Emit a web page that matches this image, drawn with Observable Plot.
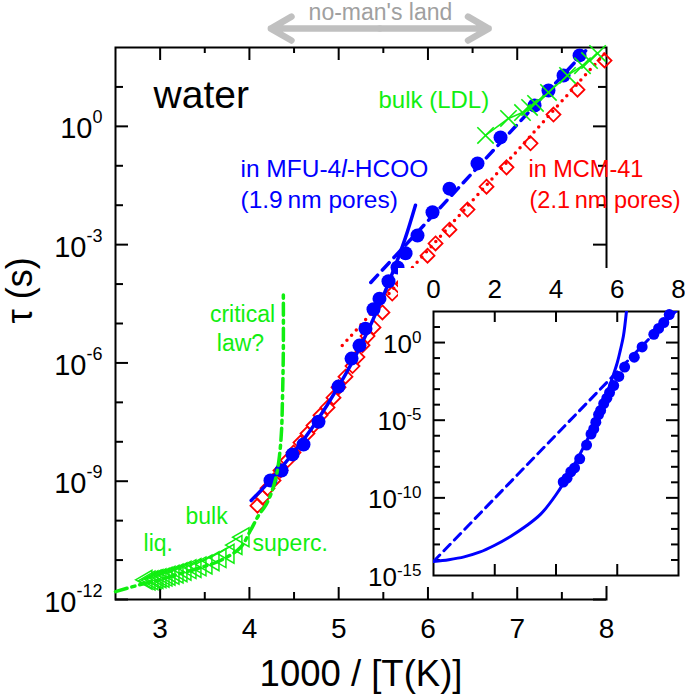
<!DOCTYPE html>
<html><head><meta charset="utf-8">
<script src="https://cdn.jsdelivr.net/npm/d3@7"></script>
<script src="https://cdn.jsdelivr.net/npm/@observablehq/plot@0.6"></script>
<style>
body{margin:0;background:#fff;}
#wrap{position:relative;width:685px;height:694px;}
#inset{position:absolute;left:398px;top:268px;}
</style></head><body><div id="wrap"><div id="main"></div><div id="inset"></div></div>
<script>
// ---------- data (x = 1000/T in 1/K, values are log10 of tau in s) ----------
const mfuX = [4.236,4.360,4.483,4.606,4.774,4.998,5.144,5.233,5.300,5.390,5.457,5.558,5.659,5.749,5.883,6.051,6.241,6.555,6.813,7.194,7.350,7.519,7.698];
const mfuLogTau = [-8.98,-8.73,-8.32,-8.07,-7.49,-6.60,-5.89,-5.56,-5.13,-4.64,-4.37,-3.93,-3.58,-3.22,-2.77,-2.18,-1.58,-0.94,-0.28,0.53,0.91,1.29,1.80];

const mcmX = [4.09,4.147,4.203,4.27,4.348,4.427,4.494,4.572,4.65,4.718,4.796,4.875,4.942,4.998,5.076,5.155,5.21,5.267,5.323,5.39,5.49,5.60,5.715,5.77,5.995,6.085,6.241,6.443,6.656,6.88,7.149,7.406,7.675,7.978];
const mcmLogTau = [-9.62,-9.41,-9.18,-8.98,-8.73,-8.47,-8.27,-8.02,-7.79,-7.59,-7.33,-7.13,-6.88,-6.62,-6.35,-6.08,-5.85,-5.55,-5.32,-5.10,-4.72,-4.24,-3.99,-3.81,-3.28,-2.97,-2.62,-2.11,-1.53,-1.04,-0.43,0.30,0.93,1.67];

const ldlX = [6.645,6.902,7.059,7.138,7.205,7.35,7.563,7.731,7.81,7.90];
const ldlLogTau = [-0.23,0.20,0.35,0.48,0.58,0.86,1.29,1.54,1.67,1.85];

const bulkX = [2.847,2.881,2.914,2.948,2.970,3.004,3.038,3.071,3.105,3.150,3.195,3.239,3.284,3.340,3.396,3.452,3.519,3.598,3.676,3.766,3.855,3.934];
const bulkLogTau = [-11.50,-11.52,-11.51,-11.49,-11.48,-11.46,-11.45,-11.42,-11.40,-11.37,-11.34,-11.31,-11.27,-11.23,-11.20,-11.16,-11.11,-11.03,-10.95,-10.84,-10.62,-10.42];

const critX = [2.5,2.78,3.004,3.228,3.452,3.676,3.90,4.012,4.102,4.18,4.247,4.303,4.337,4.36,4.37,4.38,4.38];
const critLogTau = [-11.80,-11.62,-11.49,-11.34,-11.19,-11.01,-10.68,-10.25,-9.87,-9.62,-9.29,-8.85,-8.35,-7.71,-6.95,-5.68,-4.16];

const vftX = [4.02,4.25,4.5,4.75,5.0,5.25,5.5,5.65,5.75,5.86];
const vftLogTau = [-9.49,-8.94,-8.26,-7.49,-6.59,-5.55,-4.30,-3.44,-2.81,-2.00];

const arrX = [5.36,7.80];
const arrLogTau = [-3.96,2.00];

const mcmFitX = [5.04,8.0];
const mcmFitLogTau = [-5.56,1.90];

const insetVftX = [0,0.5,1,1.5,2,2.5,3,3.5,4,4.5,5,5.5,5.8,6.0,6.1,6.2,6.3];
const insetVftLogTau = [-14.1,-13.98,-13.8,-13.5,-13.05,-12.5,-11.85,-11.05,-9.8,-8.2,-6.35,-4.1,-2.5,-1.3,-0.5,0.4,2.0];
const insetArrX = [0,7.95];
const insetArrLogTau = [-14.1,2.1];

// ticks and labels
const xTickMajor = [3,4,5,6,7];
const xTickMinor = [3.5,4.5,5.5,6.5,7.5];
const xTickLabels = [3,4,5,6,7,8];
const yMajorExp = [-12,-9,-6,-3,0];
const yMinorExp = [-11,-10,-8,-7,-5,-4,-2,-1,1];
const insetXTicks = [2,4,6];
const insetXLabels = [0,2,4,6,8];
const insetYMajor = [-10,-5,0];
const insetYMinor = [-14,-13,-12,-11,-9,-8,-7,-6,-4,-3,-2,-1,1];
const insetYLabels = [-15,-10,-5,0];

// ---------- build tables ----------
const pts = (xs, ls) => xs.map((x, i) => ({x, y: 10 ** ls[i]}));
const mfu = pts(mfuX, mfuLogTau), mcm = pts(mcmX, mcmLogTau), ldl = pts(ldlX, ldlLogTau);
const bulk = pts(bulkX, bulkLogTau), crit = pts(critX, critLogTau), vft = pts(vftX, vftLogTau);
const arr = pts(arrX, arrLogTau), mcmFit = pts(mcmFitX, mcmFitLogTau);
const iVft = pts(insetVftX, insetVftLogTau), iArr = pts(insetArrX, insetArrLogTau);

const FONT = "'Liberation Sans', Arial, Helvetica, sans-serif";
const GREEN = "#11ee11", BLUE = "#0000ff", RED = "#ff0000", GREY = "#c0c0c0";

const leftTri = {draw(ctx, size) {
  const s = Math.sqrt(size) * 0.6824, u = s * Math.sqrt(3) / 2;
  ctx.moveTo(-s, 0); ctx.lineTo(s / 2, -u); ctx.lineTo(s / 2, u); ctx.closePath();
}};

const note = (txt, x, lg, color, size, anchor = "start") =>
  Plot.text([txt], {x: () => x, y: () => 10 ** lg, text: d => d, fill: color, fontSize: size, textAnchor: anchor, lineAnchor: "bottom"});

const MW = 685, MH = 694, ML = 115, MR = 79, MT = 47, MB = 95;
const IW = MW - ML - MR, IH = MH - MT - MB;

const main = Plot.plot({
  width: MW, height: MH, marginLeft: ML, marginRight: MR, marginTop: MT, marginBottom: MB,
  style: {fontFamily: FONT, background: "white", overflow: "visible", color: "black"},
  x: {domain: [2.5, 8], axis: null},
  y: {type: "log", domain: [1e-12, 1e2], axis: null},
  marks: [
    Plot.frame({stroke: "black", strokeWidth: 2}),
    Plot.ruleX(xTickMajor, {x: d => d, insetTop: IH - 12, stroke: "black", strokeWidth: 2}),
    Plot.ruleX(xTickMajor, {x: d => d, insetBottom: IH - 13, stroke: "black", strokeWidth: 2}),
    Plot.ruleX(xTickMinor, {x: d => d, insetTop: IH - 7, stroke: "black", strokeWidth: 2}),
    Plot.ruleX(xTickMinor, {x: d => d, insetBottom: IH - 6, stroke: "black", strokeWidth: 2}),
    Plot.ruleY(yMajorExp, {y: d => 10 ** d, insetRight: IW - 13, stroke: "black", strokeWidth: 2}),
    Plot.ruleY(yMajorExp, {y: d => 10 ** d, insetLeft: IW - 13, stroke: "black", strokeWidth: 2}),
    Plot.ruleY(yMinorExp, {y: d => 10 ** d, insetRight: IW - 8, stroke: "black", strokeWidth: 2}),
    Plot.ruleY(yMinorExp, {y: d => 10 ** d, insetLeft: IW - 8, stroke: "black", strokeWidth: 2}),
    Plot.text(xTickLabels, {x: d => d, frameAnchor: "bottom", text: d => String(d), dy: 38, lineAnchor: "bottom", fontSize: 28}),
    Plot.text(yMajorExp, {y: d => 10 ** d, frameAnchor: "left", text: d => `10^${d}`, textAnchor: "end", dx: -13, dy: 12, lineAnchor: "bottom", fontSize: 29}),
    Plot.text(["1000 / [T(K)]"], {frameAnchor: "bottom", text: d => d, dy: 86, lineAnchor: "bottom", fontSize: 36.5}),
    Plot.text(["\u03c4 (s)"], {frameAnchor: "left", text: d => d, rotate: -90, dx: -84, lineAnchor: "bottom", fontSize: 36}),
    // no-man's land
    Plot.arrow([{a: 5.46, b: 4.24}, {a: 5.46, b: 6.68}], {x1: d => d.a, x2: d => d.b, y1: () => 10 ** 2.48, y2: () => 10 ** 2.48, stroke: GREY, strokeWidth: 6.5, headLength: 5.5, headAngle: 60}),
    note("no-man's land", 5.468, 2.71, "#a0a0a0", 23, "middle"),
    // data
    Plot.dot(bulk, {x: "x", y: "y", symbol: leftTri, r: 9, fill: "none", stroke: GREEN, strokeWidth: 1.5}),
    Plot.dot(mcm, {x: "x", y: "y", symbol: "diamond2", r: 6.3, fill: "none", stroke: RED, strokeWidth: 1.8}),
    Plot.line(mcmFit, {x: "x", y: "y", stroke: RED, strokeWidth: 3.5, strokeDasharray: "0,7", strokeLinecap: "round"}),
    Plot.line(vft, {x: "x", y: "y", stroke: BLUE, strokeWidth: 3.5, curve: "catmull-rom"}),
    Plot.line(arr, {x: "x", y: "y", stroke: BLUE, strokeWidth: 3.5, strokeDasharray: "10,7"}),
    Plot.dot(mfu, {x: "x", y: "y", r: 7, fill: BLUE, stroke: "none"}),
    Plot.line(crit, {x: "x", y: "y", stroke: GREEN, strokeWidth: 3.5, strokeDasharray: "12,5,3,5", curve: "catmull-rom"}),
    Plot.line(ldl, {x: "x", y: "y", stroke: GREEN, strokeWidth: 1.5}),
    Plot.dot(ldl, {x: "x", y: "y", symbol: "times", r: 7.5, stroke: GREEN, strokeWidth: 1.6}),
    // annotations
    note("water", 2.926, 0.453, "black", 39),
    note("bulk (LDL)", 5.446, 0.453, GREEN, 24),
    note("in MFU-4l-HCOO", 3.90, -1.297, BLUE, 24.5),
    note("(1.9\u2009nm pores)", 3.90, -2.083, BLUE, 24.5),
    note("in MCM-41", 7.126, -1.297, RED, 23.5),
    note("(2.1\u2009nm pores)", 7.138, -2.083, RED, 23.5),
    note("critical", 3.923, -4.974, GREEN, 23, "middle"),
    note("law?", 3.90, -5.685, GREEN, 23, "middle"),
    note("bulk", 3.284, -10.097, GREEN, 23),
    note("liq.", 2.814, -10.78, GREEN, 23),
    note("superc.", 4.035, -10.78, GREEN, 23)
  ]
});

const SW = 287, SH = 318, SL = 35, SR = 7, ST = 43, SB = 11;
const SIW = SW - SL - SR, SIH = SH - ST - SB;
const inset = Plot.plot({
  width: SW, height: SH, marginLeft: SL, marginRight: SR, marginTop: ST, marginBottom: SB,
  style: {fontFamily: FONT, background: "white", overflow: "visible", color: "black"},
  x: {domain: [0, 8], axis: null},
  y: {type: "log", domain: [1e-15, 1e2], axis: null},
  marks: [
    Plot.frame({stroke: "black", strokeWidth: 2}),
    Plot.ruleX(insetXTicks, {x: d => d, insetTop: SIH - 11, stroke: "black", strokeWidth: 2}),
    Plot.ruleX(insetXTicks, {x: d => d, insetBottom: SIH - 11, stroke: "black", strokeWidth: 2}),
    Plot.ruleY(insetYMajor, {y: d => 10 ** d, insetRight: SIW - 12, stroke: "black", strokeWidth: 2}),
    Plot.ruleY(insetYMajor, {y: d => 10 ** d, insetLeft: SIW - 12, stroke: "black", strokeWidth: 2}),
    Plot.ruleY(insetYMinor, {y: d => 10 ** d, insetRight: SIW - 7, stroke: "black", strokeWidth: 2}),
    Plot.ruleY(insetYMinor, {y: d => 10 ** d, insetLeft: SIW - 7, stroke: "black", strokeWidth: 2}),
    Plot.text(insetXLabels, {x: d => d, frameAnchor: "top", text: d => String(d), dy: -14, lineAnchor: "bottom", fontSize: 26}),
    Plot.text(insetYLabels, {y: d => 10 ** d, frameAnchor: "left", text: d => `10^${d}`, textAnchor: "end", dx: -12, dy: 10, lineAnchor: "bottom", fontSize: 26}),
    Plot.line(iArr, {x: "x", y: "y", stroke: BLUE, strokeWidth: 3, strokeDasharray: "9,6", clip: true}),
    Plot.line(iVft, {x: "x", y: "y", stroke: BLUE, strokeWidth: 3, curve: "catmull-rom", clip: true}),
    Plot.dot(mfu, {x: "x", y: "y", r: 5.5, fill: BLUE, stroke: "none"})
  ]
});

function superscripts(svg, shift, size) {
  svg.querySelectorAll("text").forEach(t => {
    const m = /^10\^(-?\d+)$/.exec(t.textContent);
    if (m) {
      t.textContent = "10";
      const ts = document.createElementNS("http://www.w3.org/2000/svg", "tspan");
      ts.setAttribute("dy", shift);
      ts.setAttribute("font-size", size);
      ts.textContent = m[1];
      t.appendChild(ts);
    }
    if (t.textContent === "in MFU-4l-HCOO") {
      t.textContent = "in MFU-4";
      const it = document.createElementNS("http://www.w3.org/2000/svg", "tspan");
      it.setAttribute("font-style", "italic");
      it.textContent = "l";
      t.appendChild(it);
      t.appendChild(document.createTextNode("-HCOO"));
    }
  });
}
superscripts(main, -15, 18);
superscripts(inset, -10, 17);
document.getElementById("main").appendChild(main);
document.getElementById("inset").appendChild(inset);
</script></body></html>
